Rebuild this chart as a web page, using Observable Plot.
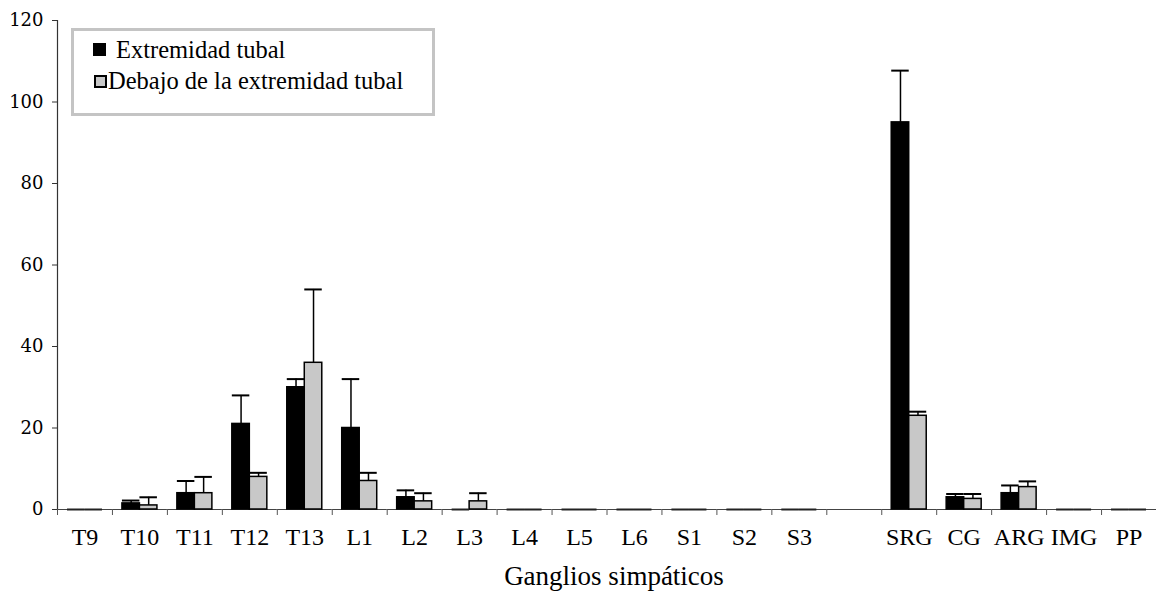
<!DOCTYPE html>
<html><head><meta charset="utf-8">
<script src="https://cdn.jsdelivr.net/npm/d3@7"></script>
<script src="https://cdn.jsdelivr.net/npm/@observablehq/plot@0.6"></script>
<style>
body{margin:0;background:#fff;overflow:hidden;}
#wrap{position:relative;width:1156px;height:605px;overflow:hidden;font-family:"Liberation Serif","Times New Roman",serif;}
#wrap svg{position:absolute;left:0;top:0;}
.leg{position:absolute;left:71px;top:28px;width:364px;height:88px;box-sizing:border-box;border:3px solid #c4c4c4;background:#fff;}
.sw{position:absolute;box-sizing:border-box;}
.lt{position:absolute;font-size:24.5px;line-height:1;color:#000;white-space:nowrap;}
.ttl{position:absolute;left:0;width:1228px;text-align:center;top:563px;font-size:27px;line-height:1;color:#000;white-space:nowrap;}
</style></head>
<body><div id="wrap"></div>
<script>
const categories = ["T9","T10","T11","T12","T13","L1","L2","L3","L4","L5","L6","S1","S2","S3"," ","SRG","CG","ARG","IMG","PP"];
const seriesNames = ["Extremidad tubal","Debajo de la extremidad tubal"];
const extremidadValues = [0,1.5,4,21,30,20,3,0,0,0,0,0,0,0,null,95,3,4,0,0];
const extremidadErrors = [0,0.7,3,7,2,12,1.7,0,0,0,0,0,0,0,null,12.7,0.8,1.9,0,0];
const debajoValues = [0,1,4,8,36,7,2,2,0,0,0,0,0,0,null,23,2.6,5.5,0,0];
const debajoErrors = [0,2,4,1,18,2,2,2,0,0,0,0,0,0,null,1,1.2,1.4,0,0];
const yTicks = [0,20,40,60,80,100,120];
const seriesColors = ["#000000","#c8c8c8"];
const axisTitle = "Ganglios simpáticos";

const rows = [];
categories.forEach((c, i) => {
  if (extremidadValues[i] != null) rows.push({cat: c, series: seriesNames[0], value: extremidadValues[i], err: extremidadErrors[i]});
  if (debajoValues[i] != null) rows.push({cat: c, series: seriesNames[1], value: debajoValues[i], err: debajoErrors[i]});
});
// placeholder so the gap facet counts as non-empty (keeps a single y axis)
const gapRows = categories.filter((c, i) => extremidadValues[i] == null).map(c => ({cat: c, series: seriesNames[0], value: 0}));

const W = 1156, H = 605, mL = 57, mR = 0, mT = 20, mB = 96;
const padOuter = 0.57;
const bw = (W - mL - mR) / categories.length;
const step = bw / (2 + 2 * padOuter);
const leftOffset = (padOuter + 0.5) * step;

const chart = Plot.plot({
  width: W, height: H,
  marginLeft: mL, marginRight: mR, marginTop: mT, marginBottom: mB,
  style: {fontFamily: "'Liberation Serif', serif", background: "white", color: "#000", overflow: "visible"},
  fx: {domain: categories, padding: 0, round: false},
  x: {domain: seriesNames, paddingInner: 0, paddingOuter: padOuter, round: false, axis: null},
  y: {domain: [0, 120]},
  color: {domain: seriesNames, range: seriesColors},
  marks: [
    Plot.ruleY([0], {stroke: "#444", strokeWidth: 1.2}),
    Plot.ruleY(gapRows, {fx: "cat", y: "value", strokeOpacity: 0}),
    Plot.barY(rows.filter(d => d.value > 0), {fx: "cat", x: "series", y: "value", fill: "series", stroke: "#000", strokeWidth: 1.5}),
    Plot.tickY(rows.filter(d => d.value === 0), {fx: "cat", x: "series", y: 0, stroke: "#222", strokeWidth: 2}),
    Plot.ruleX(rows.filter(d => d.err > 0), {fx: "cat", x: "series", y1: "value", y2: d => d.value + d.err, stroke: "#000", strokeWidth: 1.5}),
    Plot.tickY(rows.filter(d => d.err > 0), {fx: "cat", x: "series", y: d => d.value + d.err, stroke: "#000", strokeWidth: 2}),
    Plot.ruleX([{cat: categories[0], series: seriesNames[0]}], {fx: "cat", x: "series", y1: 0, y2: 120, dx: -leftOffset, stroke: "#333", strokeWidth: 1.2}),
    Plot.axisY({ticks: yTicks, tickSize: 5, tickPadding: 9, label: null, fontSize: 18, fontFamily: "'DejaVu Serif', serif", stroke: "#333"}),
    Plot.axisFx({anchor: "bottom", tickSize: 0, tickPadding: 18, fontSize: 24, label: null}),
    Plot.axisFx({anchor: "bottom", tickSize: 6, tickFormat: () => "", dx: -bw / 2, label: null, stroke: "#555"})
  ]
});

const wrap = document.getElementById("wrap");
wrap.appendChild(chart);

const ttl = document.createElement("div");
ttl.className = "ttl";
ttl.textContent = axisTitle;
wrap.appendChild(ttl);

const leg = document.createElement("div");
leg.className = "leg";
wrap.appendChild(leg);
const items = [
  {name: seriesNames[0], color: seriesColors[0], sx: 93, sy: 43, tx: 116, ty: 38},
  {name: seriesNames[1], color: seriesColors[1], sx: 94, sy: 75, tx: 108, ty: 69}
];
items.forEach(it => {
  const s = document.createElement("div");
  s.className = "sw";
  Object.assign(s.style, {left: it.sx + "px", top: it.sy + "px", width: "13px", height: "13px", background: it.color, border: "2px solid #000"});
  wrap.appendChild(s);
  const t = document.createElement("div");
  t.className = "lt";
  t.textContent = it.name;
  Object.assign(t.style, {left: it.tx + "px", top: it.ty + "px"});
  wrap.appendChild(t);
});
</script>
</body></html>
